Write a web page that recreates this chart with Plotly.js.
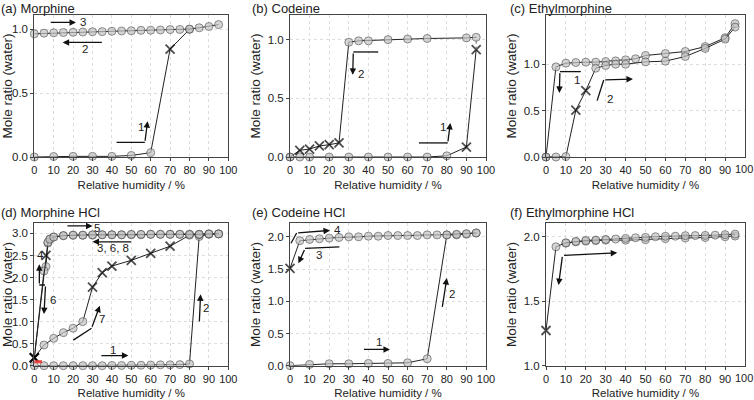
<!DOCTYPE html>
<html>
<head>
<meta charset="utf-8">
<script src="https://cdn.plot.ly/plotly-3.0.1.min.js"></script>
<style>
  html, body { margin: 0; padding: 0; background: #fff; overflow: hidden; }
  #plot { width: 754px; height: 400px; }
</style>
</head>
<body>
<div id="plot"></div>
<script>
// ---- data (RH in %, mole ratio of water) ----
// 'o' = circle, 'x' = cross
// (a) Morphine
const morSorbRH = [0, 10, 20, 30, 40, 50, 60, 70, 80];
const morSorbMR = [0, 0.004, 0.005, 0.005, 0.005, 0.012, 0.034, 0.844, 0.998];
const morSorbMk = ['o', 'o', 'o', 'o', 'o', 'o', 'o', 'x', 'o'];
const morDesRH = [95, 90, 85, 80, 75, 70, 65, 60, 55, 50, 45, 40, 35, 30, 25, 20, 15, 10, 5, 0];
const morDesMR = [1.035, 1.02, 1.01, 1.0, 0.997, 0.996, 0.993, 0.991, 0.99, 0.987, 0.985, 0.983, 0.98, 0.979, 0.977, 0.975, 0.973, 0.971, 0.968, 0.963];

// (b) Codeine
const codSorbRH = [0, 5, 10, 20, 30, 40, 50, 60, 70, 80, 90, 95];
const codSorbMR = [0, 0, 0, 0, 0, 0, 0, 0, 0, 0.01, 0.085, 0.915];
const codSorbMk = ['o', 'o', 'o', 'o', 'o', 'o', 'o', 'o', 'o', 'o', 'x', 'x'];
const codDesRH = [95, 90, 70, 60, 50, 40, 35, 30, 25, 20, 15, 10, 5, 0];
const codDesMR = [1.02, 1.015, 1.01, 1.005, 1.0, 0.99, 0.99, 0.978, 0.12, 0.105, 0.094, 0.068, 0.057, 0];
const codDesMk = ['o', 'o', 'o', 'o', 'o', 'o', 'o', 'o', 'x', 'x', 'x', 'x', 'x', 'o'];

// (c) Ethylmorphine
const ethARH = [95, 90, 80, 70, 60, 50, 45, 40, 35, 30, 25, 20, 15, 10, 5, 0];
const ethAMR = [1.437, 1.285, 1.19, 1.137, 1.115, 1.094, 1.058, 1.047, 1.036, 1.029, 1.022, 1.022, 1.018, 1.011, 0.971, 0];
const ethBRH = [0, 5, 10, 15, 20, 25, 30, 35, 40, 50, 60, 70, 80, 90, 95];
const ethBMR = [0, 0, 0.005, 0.505, 0.715, 0.957, 0.986, 1.0, 1.0, 1.025, 1.033, 1.083, 1.17, 1.27, 1.40];
const ethBMk = ['o', 'o', 'o', 'x', 'x', 'o', 'o', 'o', 'o', 'o', 'o', 'o', 'o', 'o', 'o'];

// (d) Morphine HCl
const mhSorbRH = [0, 5, 10, 15, 20, 25, 30, 35, 40, 45, 50, 55, 60, 65, 70, 75, 80, 85, 90, 95];
const mhSorbMR = [0, 0, 0, 0, 0, 0, 0, 0, 0.005, 0.005, 0.01, 0.01, 0.015, 0.02, 0.02, 0.025, 0.04, 2.93, 2.98, 2.99];
const mhDesRH = [95, 90, 85, 80, 75, 70, 65, 60, 55, 50, 45, 40, 35, 30, 25, 20, 15, 10, 8, 7, 6, 5, 0];
const mhDesMR = [2.99, 2.99, 2.98, 2.98, 2.98, 2.98, 2.98, 2.98, 2.97, 2.97, 2.97, 2.97, 2.97, 2.96, 2.96, 2.96, 2.95, 2.92, 2.87, 2.78, 2.25, 2.15, 0.18];
const mhDesMk = ['o', 'o', 'o', 'o', 'o', 'o', 'o', 'o', 'o', 'o', 'o', 'o', 'o', 'o', 'o', 'o', 'o', 'o', 'o', 'o', 'o', 'o', 'x'];
const mhResRH = [0, 6, 7, 8, 10, 15, 20, 25, 30, 35, 40, 45, 50, 55, 60, 65, 70, 75, 80, 85, 90, 95];
const mhResMR = [0.18, 2.5, 2.8, 2.87, 2.92, 2.95, 2.96, 2.96, 2.97, 2.97, 2.97, 2.97, 2.98, 2.98, 2.98, 2.98, 2.98, 2.98, 2.98, 2.98, 2.99, 2.99];
const mhResMk = ['x', 'x', 'o', 'o', 'o', 'o', 'o', 'o', 'o', 'o', 'o', 'o', 'o', 'o', 'o', 'o', 'o', 'o', 'o', 'o', 'o', 'o'];
const mh7RH = [0, 5, 10, 15, 20, 25, 30, 35, 40, 50, 60, 70, 80, 85];
const mh7MR = [0.18, 0.47, 0.62, 0.75, 0.85, 1.0, 1.78, 2.11, 2.26, 2.39, 2.55, 2.71, 2.96, 2.97];
const mh7Mk = ['x', 'o', 'o', 'o', 'o', 'o', 'x', 'x', 'x', 'x', 'x', 'x', 'o', 'o'];

// (e) Codeine HCl
const chSorbRH = [0, 10, 20, 30, 40, 50, 60, 70, 80, 85, 90, 95];
const chSorbMR = [0, 0.02, 0.03, 0.03, 0.035, 0.035, 0.045, 0.108, 2.03, 2.03, 2.04, 2.06];
const chDesRH = [95, 90, 85, 80, 75, 70, 65, 60, 55, 50, 45, 40, 35, 30, 25, 20, 15, 10, 5, 0];
const chDesMR = [2.06, 2.05, 2.04, 2.03, 2.03, 2.03, 2.02, 2.02, 2.02, 2.02, 2.01, 2.01, 2.0, 2.0, 1.99, 1.98, 1.97, 1.96, 1.94, 1.51];
const chDesMk = ['o', 'o', 'o', 'o', 'o', 'o', 'o', 'o', 'o', 'o', 'o', 'o', 'o', 'o', 'o', 'o', 'o', 'o', 'o', 'x'];

// (f) Ethylmorphine HCl
const ehARH = [0, 5, 10, 15, 20, 25, 30, 35, 40, 45, 50, 55, 60, 65, 70, 75, 80, 85, 90, 95];
const ehAMR = [1.273, 1.922, 1.953, 1.964, 1.971, 1.974, 1.979, 1.982, 1.987, 1.992, 1.995, 2.0, 2.003, 2.004, 2.008, 2.009, 2.01, 2.012, 2.016, 2.02];
const ehAMk = ['x', 'o', 'o', 'o', 'o', 'o', 'o', 'o', 'o', 'o', 'o', 'o', 'o', 'o', 'o', 'o', 'o', 'o', 'o', 'o'];
const ehBRH = [95, 90, 80, 70, 60, 50, 40, 30, 25, 20, 15, 10];
const ehBMR = [2.005, 2.0, 1.994, 1.99, 1.985, 1.977, 1.973, 1.973, 1.97, 1.965, 1.96, 1.95];

const panelTitles = ['(a) Morphine', '(b) Codeine', '(c) Ethylmorphine',
                     '(d) Morphine HCl', '(e) Codeine HCl', '(f) Ethylmorphine HCl'];
const xTickVals = [0, 10, 20, 30, 40, 50, 60, 70, 80, 90, 100];
const yTickVals = [[0, 0.5, 1.0], [0, 0.5, 1.0], [0, 0.5, 1.0],
                   [0, 0.5, 1.0, 1.5, 2.0, 2.5, 3.0], [0, 0.5, 1.0, 1.5, 2.0], [1.0, 1.5, 2.0]];

// ---- helpers ----
const FONT = 'Arial, "Liberation Sans", sans-serif';
const W = 754, H = 400;

function series(xs, ys, kinds, n) {
    kinds = kinds || xs.map(() => 'o');
    return {
        x: xs, y: ys, xaxis: 'x' + (n > 1 ? n : ''), yaxis: 'y' + (n > 1 ? n : ''),
        type: 'scatter', mode: 'lines+markers', cliponaxis: false, showlegend: false,
        line: {color: '#222', width: 1},
        marker: {
            symbol: kinds.map(k => k === 'x' ? 'x-thin-open' : 'circle'),
            size: kinds.map(k => k === 'x' ? 9 : 8),
            color: kinds.map(k => k === 'x' ? '#000' : '#c4c4c4'),
            line: {color: kinds.map(k => k === 'x' ? '#000' : '#555'),
                   width: kinds.map(k => k === 'x' ? 1.8 : 1)}
        }
    };
}

const annotations = [];
const shapes = [];

function arrow(n, x0, y0, x1, y1) {
    const s = n > 1 ? n : '';
    annotations.push({xref: 'x' + s, yref: 'y' + s, axref: 'x' + s, ayref: 'y' + s,
        x: x1, y: y1, ax: x0, ay: y0, text: '', showarrow: true,
        arrowhead: 2, arrowsize: 1, arrowwidth: 1.3, arrowcolor: '#111', standoff: 0});
}
function seg(n, x0, y0, x1, y1) {
    const s = n > 1 ? n : '';
    shapes.push({type: 'line', xref: 'x' + s, yref: 'y' + s, x0: x0, y0: y0, x1: x1, y1: y1,
        line: {color: '#111', width: 1.3}});
}
function label(n, x, y, t) {
    const s = n > 1 ? n : '';
    annotations.push({xref: 'x' + s, yref: 'y' + s, x: x, y: y, text: t, showarrow: false,
        font: {family: FONT, size: 11.5, color: '#222'}});
}

// ---- traces ----
const data = [
    series(morSorbRH, morSorbMR, morSorbMk, 1),
    series(morDesRH, morDesMR, null, 1),
    series(codSorbRH, codSorbMR, codSorbMk, 2),
    series(codDesRH, codDesMR, codDesMk, 2),
    series(ethARH, ethAMR, null, 3),
    series(ethBRH, ethBMR, ethBMk, 3),
    series(mhSorbRH, mhSorbMR, null, 4),
    series(mhDesRH, mhDesMR, mhDesMk, 4),
    series(mh7RH, mh7MR, mh7Mk, 4),
    series(mhResRH, mhResMR, mhResMk, 4),
    series(chSorbRH, chSorbMR, null, 5),
    series(chDesRH, chDesMR, chDesMk, 5),
    series(ehBRH, ehBMR, null, 6),
    series(ehARH, ehAMR, ehAMk, 6)
];
// dotted link between last sorption cross and first desorption circle in (b)
data.push({x: [codSorbRH[codSorbRH.length - 1], codDesRH[0]],
           y: [codSorbMR[codSorbMR.length - 1], codDesMR[0]],
           xaxis: 'x2', yaxis: 'y2', mode: 'lines', showlegend: false,
           line: {color: '#666', width: 1, dash: 'dot'}});

// ---- arrows and step labels ----
// (a)
arrow(1, 7.7, 1.052, 21.5, 1.052); label(1, 25, 1.052, '3');
arrow(1, 35.6, 0.896, 14.6, 0.896); label(1, 26, 0.845, '2');
seg(1, 42.4, 0.115, 57, 0.115); arrow(1, 57, 0.115, 58.4, 0.28); label(1, 55.2, 0.235, '1');
// (b)
seg(2, 65.8, 0.12, 80.5, 0.12); arrow(2, 80.5, 0.12, 81.8, 0.29); label(2, 78, 0.255, '1');
seg(2, 45, 0.895, 32.3, 0.895); arrow(2, 32.3, 0.895, 32, 0.70); label(2, 36, 0.71, '2');
// (c)
seg(3, 17.5, 0.92, 7, 0.92); arrow(3, 7, 0.92, 6.7, 0.69); label(3, 15.5, 0.83, '1');
seg(3, 25.7, 0.607, 29, 0.83); arrow(3, 29, 0.83, 43.7, 0.84); label(3, 32.3, 0.63, '2');
// (d)
arrow(4, 16.3, 3.17, 30, 3.17); label(4, 32.5, 3.12, '5');
arrow(4, 50.7, 2.81, 30, 2.81); label(4, 40.7, 2.66, '3, 6, 8');
seg(4, 5.5, 1.83, 2.6, 1.83); arrow(4, 2.6, 1.83, 2.6, 2.3); label(4, 3.2, 2.5, '4');
arrow(4, 5.8, 1.83, 5, 1.17); label(4, 9.6, 1.5, '6');
seg(4, 20.1, 0.58, 29.5, 0.85); arrow(4, 29.5, 0.85, 33.8, 1.36); label(4, 35, 1.05, '7');
arrow(4, 33.8, 0.23, 48.5, 0.23); label(4, 40.7, 0.35, '1');
arrow(4, 85.05, 0.97, 85.7, 1.62); label(4, 88.6, 1.3, '2');
shapes.push({type: 'line', xref: 'x4', yref: 'y4', x0: -3, y0: 0.09, x1: 4, y1: 0.09,
    line: {color: '#e8423f', width: 3}});
// (e)
seg(5, 0.5, 1.9, 3.4, 2.06); arrow(5, 3.4, 2.06, 20.4, 2.1); label(5, 24, 2.1, '4');
seg(5, 25.2, 1.845, 7.7, 1.82); arrow(5, 7.7, 1.82, 4.3, 1.59); label(5, 15, 1.72, '3');
arrow(5, 37, 0.253, 51, 0.253); label(5, 45.6, 0.37, '1');
arrow(5, 77.6, 0.89, 80, 1.36); label(5, 82.8, 1.12, '2');
// (f)
arrow(6, 8.3, 1.855, 6.3, 1.625); arrow(6, 8.3, 1.855, 35.8, 1.875);

// ---- panel layout ----
const px = [[34.3, 228.3], [290, 486], [546, 745]];
const py = [[15, 157], [223.3, 365.7]];
const yRanges = [[0, 1.11], [0, 1.21], [0, 1.53], [0, 3.23], [0, 2.21], [1.0, 2.104]];

const layout = {
    width: W, height: H,
    margin: {l: 0, r: 0, t: 0, b: 0},
    paper_bgcolor: '#fff', plot_bgcolor: '#fff',
    font: {family: FONT, size: 11, color: '#222'},
    annotations: annotations, shapes: shapes
};

for (let i = 0; i < 6; i++) {
    const n = i + 1, s = n > 1 ? n : '';
    const col = i % 3, row = Math.floor(i / 3);
    // the right-hand column's last label sits on the page edge and plotly drops it,
    // so that one is written as a paper annotation pinned to the right edge instead
    const tv = col === 2 ? xTickVals.slice(0, -1) : xTickVals;
    layout['xaxis' + s] = {
        domain: [px[col][0] / W, px[col][1] / W], anchor: 'y' + s,
        range: [0, 100], tickvals: tv, ticks: 'outside', ticklen: 3,
        tickcolor: '#444', showline: true, mirror: true, linecolor: '#444', linewidth: 1,
        showgrid: true, gridcolor: '#dddddd', griddash: 'dot', gridwidth: 1,
        zeroline: false, tickfont: {size: 11}, automargin: false,
        title: {text: 'Relative humidity / %', font: {size: 11.5}, standoff: 5}
    };
    layout['yaxis' + s] = {
        domain: [(H - py[row][1]) / H, (H - py[row][0]) / H], anchor: 'x' + s,
        range: yRanges[i], tickvals: yTickVals[i], tickformat: '.1f', ticks: 'outside', ticklen: 3,
        tickcolor: '#444', showline: true, mirror: true, linecolor: '#444', linewidth: 1,
        showgrid: true, gridcolor: '#dddddd', griddash: 'dot', gridwidth: 1,
        zeroline: false, tickfont: {size: 11.5}, automargin: false,
        title: {text: 'Mole ratio (water)', font: {size: 13.5}, standoff: 3}
    };
    if (col === 2) {
        annotations.push({xref: 'paper', yref: 'paper', x: 1, y: (H - py[row][1] - 12.5) / H,
            xanchor: 'right', yanchor: 'middle', text: String(xTickVals[xTickVals.length - 1]),
            showarrow: false, borderpad: 0, font: {size: 11, color: '#222'}});
    }
    annotations.push({xref: 'paper', yref: 'paper', xanchor: 'left', yanchor: 'top',
        x: [-1, 250, 508][col] / W, y: (H + 2 - [1, 205][row]) / H,
        text: panelTitles[i], showarrow: false, font: {size: 13, color: '#222'}});
}

Plotly.newPlot('plot', data, layout, {staticPlot: true});
</script>
</body>
</html>
